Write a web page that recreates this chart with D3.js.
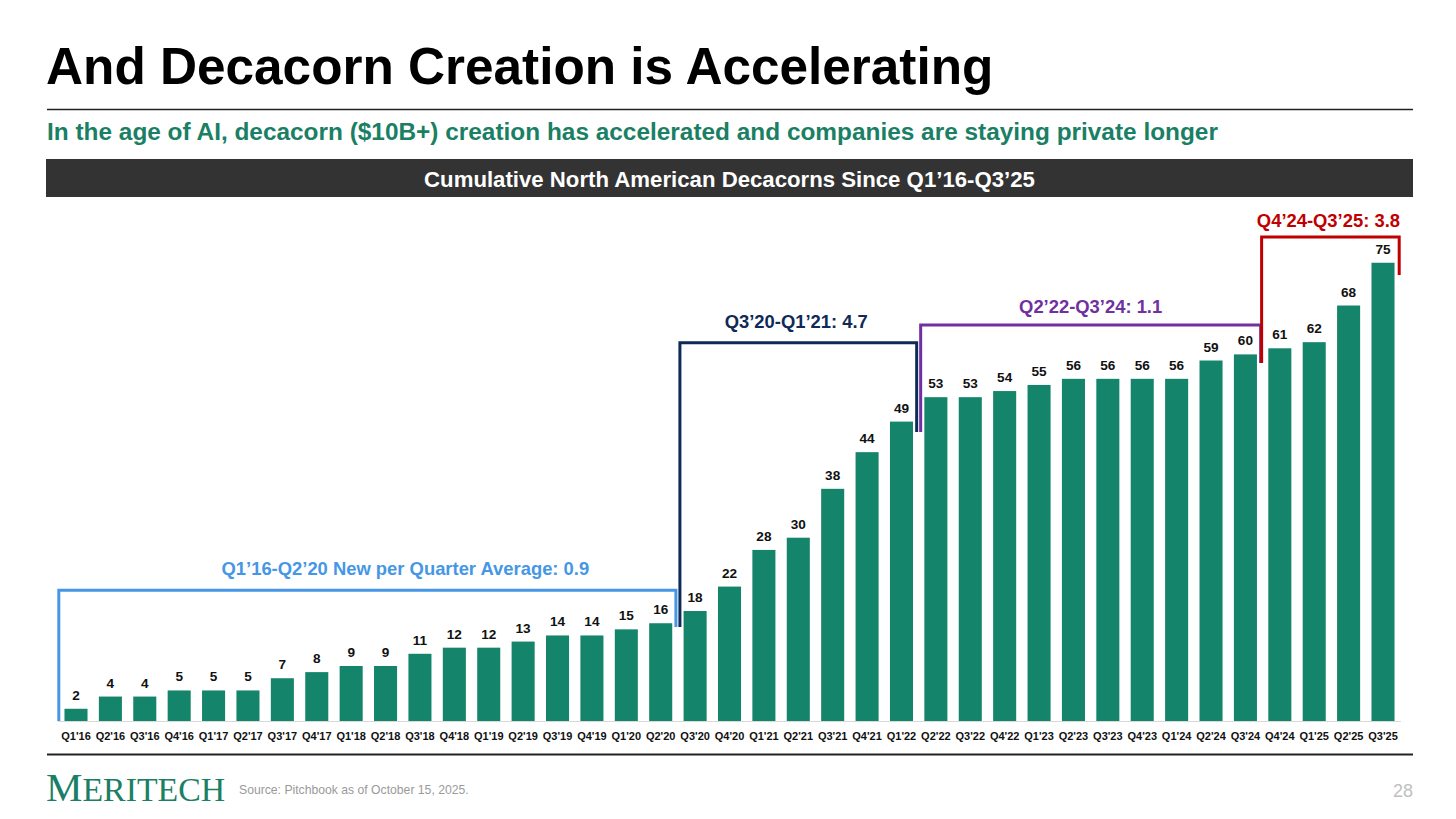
<!DOCTYPE html>
<html><head><meta charset="utf-8">
<script src="https://cdn.jsdelivr.net/npm/d3@7/dist/d3.min.js"></script>
<style>html,body{margin:0;padding:0;background:#fff;}svg{display:block;}</style>
</head><body>
<svg id="chart" width="1456" height="819"></svg>
<script>
// ---------- DATA ----------
const categories = ["Q1'16","Q2'16","Q3'16","Q4'16","Q1'17","Q2'17","Q3'17","Q4'17","Q1'18","Q2'18","Q3'18","Q4'18","Q1'19","Q2'19","Q3'19","Q4'19","Q1'20","Q2'20","Q3'20","Q4'20","Q1'21","Q2'21","Q3'21","Q4'21","Q1'22","Q2'22","Q3'22","Q4'22","Q1'23","Q2'23","Q3'23","Q4'23","Q1'24","Q2'24","Q3'24","Q4'24","Q1'25","Q2'25","Q3'25"];
const decacorns = [2,4,4,5,5,5,7,8,9,9,11,12,12,13,14,14,15,16,18,22,28,30,38,44,49,53,53,54,55,56,56,56,56,59,60,61,62,68,75];
const periodLabels = ["Q1’16-Q2’20 New per Quarter Average: 0.9","Q3’20-Q1’21: 4.7","Q2’22-Q3’24: 1.1","Q4’24-Q3’25: 3.8"];
const periodStart = ["Q1'16","Q3'20","Q2'22","Q4'24"];
const periodEnd = ["Q2'20","Q1'22","Q3'24","Q3'25"];

const title = "And Decacorn Creation is Accelerating";
const subtitle = "In the age of AI, decacorn ($10B+) creation has accelerated and companies are staying private longer";
const chartTitle = "Cumulative North American Decacorns Since Q1’16-Q3’25";
const sourceText = "Source: Pitchbook as of October 15, 2025.";
const pageNum = "28";

// ---------- LAYOUT / STYLE ----------
const periodColors = ["#4597e6","#0e2a56","#7030a0","#c00000"];
// bracket levels, expressed in the chart's value units
const bracketTop = [21.4, 61.9, 64.8, 79.2];
const bracketLeftEnd = [0, 15.4, 47.3, 58.6];
const bracketRightEnd = [15.4, 47.3, 58.6, 73];
const labelDx = [38, -2, 0, -2];
const labelGap = [15, 15, 12, 10];
const bracketInset = [2, 2, 2, -1];
const green = "#14846a";
const font = "'Liberation Sans', Arial, Helvetica, sans-serif";

const svg = d3.select("#chart");

// header
svg.append("text").attr("x",46).attr("y",84).attr("font-family",font).attr("font-weight","bold")
  .attr("font-size",51.3).attr("fill","#000").text(title);
svg.append("line").attr("x1",47).attr("x2",1413).attr("y1",109.5).attr("y2",109.5).attr("stroke","#222").attr("stroke-width",1.5);
svg.append("text").attr("x",47).attr("y",139.5).attr("font-family",font).attr("font-weight","bold")
  .attr("font-size",24.4).attr("fill","#1a7f64").text(subtitle);
svg.append("rect").attr("x",46).attr("y",159).attr("width",1367).attr("height",38).attr("fill","#333333");
svg.append("text").attr("x",729.5).attr("y",186.5).attr("text-anchor","middle").attr("font-family",font).attr("font-weight","bold")
  .attr("font-size",22.2).attr("fill","#fff").text(chartTitle);

// scales
const x = d3.scaleBand().domain(categories).range([58.8, 1400.2]).paddingInner(0.33).paddingOuter(0.165);
const y = d3.scaleLinear().domain([0, 75]).range([721, 721 - 75*6.11]);

// baseline
svg.append("line").attr("x1",58).attr("x2",1401).attr("y1",721.5).attr("y2",721.5).attr("stroke","#d9d9d9").attr("stroke-width",1);

// bars
svg.append("g").selectAll("rect").data(decacorns).join("rect")
  .attr("x",(d,i)=>x(categories[i])).attr("width",x.bandwidth())
  .attr("y",d=>y(d)).attr("height",d=>y(0)-y(d)).attr("fill",green);

// value labels
svg.append("g").selectAll("text").data(decacorns).join("text")
  .attr("x",(d,i)=>x(categories[i])+x.bandwidth()/2).attr("y",d=>y(d)-9)
  .attr("text-anchor","middle").attr("font-family",font).attr("font-weight","bold").attr("font-size",13.6).attr("fill","#111")
  .text(d=>d);

// x axis
const xAxis = d3.axisBottom(x).tickSize(0).tickPadding(10);
const gx = svg.append("g").attr("transform","translate(0,722)").call(xAxis);
gx.select(".domain").remove();
gx.selectAll("text").attr("font-family",font).attr("font-weight","bold").attr("font-size",11).attr("fill","#111");

// brackets
const gap = x.step() - x.bandwidth();
periodLabels.forEach((lab,i)=>{
  const si = categories.indexOf(periodStart[i]);
  const ei = categories.indexOf(periodEnd[i]);
  const x0 = (si===0 ? x(categories[si]) - gap/2 : x(categories[si]) - gap/2 + bracketInset[i]);
  const x1 = (ei===categories.length-1 ? x(categories[ei]) + x.bandwidth() + gap/2 - 1 : x(categories[ei]) + x.bandwidth() + gap/2 - bracketInset[i]);
  const yt = y(bracketTop[i]);
  const path = d3.path();
  path.moveTo(x0, y(bracketLeftEnd[i]));
  path.lineTo(x0, yt);
  path.lineTo(x1, yt);
  path.lineTo(x1, y(bracketRightEnd[i]));
  svg.append("path").attr("d",path.toString()).attr("fill","none").attr("stroke",periodColors[i]).attr("stroke-width",3);
  svg.append("text").attr("x",(x0+x1)/2 + labelDx[i]).attr("y",yt - labelGap[i])
    .attr("text-anchor","middle").attr("font-family",font).attr("font-weight","bold").attr("font-size",18.4)
    .attr("fill",periodColors[i]).text(lab);
});

// footer
svg.append("line").attr("x1",47).attr("x2",1413).attr("y1",754.5).attr("y2",754.5).attr("stroke","#222").attr("stroke-width",2);
const logo = svg.append("text").attr("x",46).attr("y",801).attr("font-family","'Liberation Serif','Times New Roman',serif")
  .attr("fill","#1a7f64");
logo.append("tspan").attr("font-size",41).text("M");
logo.append("tspan").attr("font-size",33.8).text("ERITECH");
svg.append("text").attr("x",239).attr("y",794).attr("font-family",font).attr("font-size",12.2).attr("fill","#9a9a9a").text(sourceText);
svg.append("text").attr("x",1413).attr("y",797).attr("text-anchor","end").attr("font-family",font).attr("font-size",18).attr("fill","#c0c0c0").text(pageNum);
</script>
</body></html>
